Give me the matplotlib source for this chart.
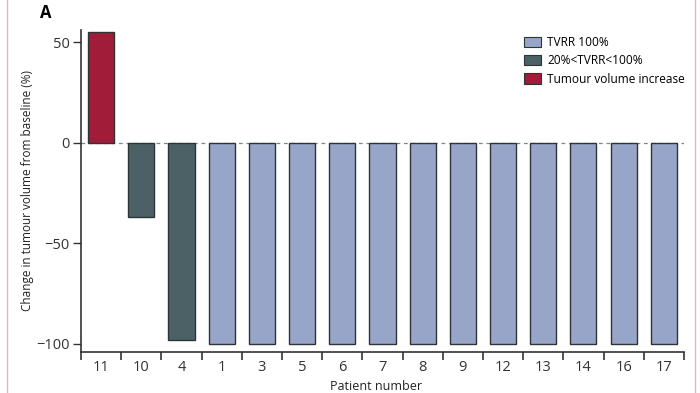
import matplotlib.pyplot as plt
import matplotlib.patches as mpatches
import numpy as np

plt.rcParams['font.family'] = ['Open Sans', 'DejaVu Sans']

patients = ['11', '10', '4', '1', '3', '5', '6', '7', '8', '9', '12', '13', '14', '16', '17']
change = [55, -37, -98, -100, -100, -100, -100, -100, -100, -100, -100, -100, -100, -100, -100]
group = ['inc', 'part', 'part'] + ['full'] * 12

colors = {'full': '#97a6c8', 'part': '#4b6166', 'inc': '#a11c38'}
labels = {'full': 'TVRR 100%', 'part': '20%<TVRR<100%', 'inc': 'Tumour volume increase'}

fig = plt.figure(figsize=(7, 3.93), dpi=100)
ax = fig.add_axes([0.1157, 0.1043, 0.8613, 0.8194])

x = np.arange(len(patients))
ax.bar(x, change, width=0.65, color=[colors[g] for g in group],
       edgecolor='#2e3436', linewidth=1.0, zorder=2)
ax.axhline(0, color='#7a8590', linestyle=(0, (3, 3)), linewidth=0.9, zorder=1)

ax.set_xlim(-0.5, len(patients) - 0.5)
ax.set_ylim(-104, 56)
ax.set_yticks([50, 0, -50, -100])
ax.set_yticklabels(['50', '0', '\u2212' + '50', '\u2212' + '100'])
ax.set_xticks(x)
ax.set_xticklabels(patients)
ax.set_xticks(np.arange(len(patients) + 1) - 0.5, minor=True)
ax.tick_params(axis='x', which='major', length=0, labelsize=10.5, pad=6, colors='#333333')
ax.tick_params(axis='x', which='minor', length=6, width=1.2, direction='out', color='#333333')
ax.tick_params(axis='y', length=6, width=1.0, labelsize=10.5, pad=2, colors='#333333')
for s in ['top', 'right']:
    ax.spines[s].set_visible(False)
for s in ['left', 'bottom']:
    ax.spines[s].set_linewidth(1.2)
    ax.spines[s].set_color('#333333')

ax.set_xlabel('Patient number', fontsize=9, color='#222222')
ax.xaxis.set_label_coords(0.49, -0.088)
ax.set_ylabel('Change in tumour volume from baseline (%)', fontsize=8.5, labelpad=2, color='#222222')

handles = [mpatches.Patch(facecolor=colors[k], edgecolor='#2e3436', linewidth=0.8, label=labels[k])
           for k in ['full', 'part', 'inc']]
ax.legend(handles=handles, loc='upper right', bbox_to_anchor=(1.02, 1.015), frameon=False,
          fontsize=8.6, handlelength=1.5, handleheight=0.95, handletextpad=0.5, labelspacing=0.45)

fig.text(40 / 700, 1 - 13 / 393, 'A', fontsize=12, fontweight='bold', va='center', ha='left')

# faint frame lines of the scanned page
fig.add_artist(plt.Line2D([7 / 700, 7 / 700], [0, 1], color='#e8b4bc', linewidth=1.0))
fig.add_artist(plt.Line2D([695 / 700, 695 / 700], [0, 1], color='#e8b4bc', linewidth=1.0))

fig.savefig('out.png', dpi=100)
